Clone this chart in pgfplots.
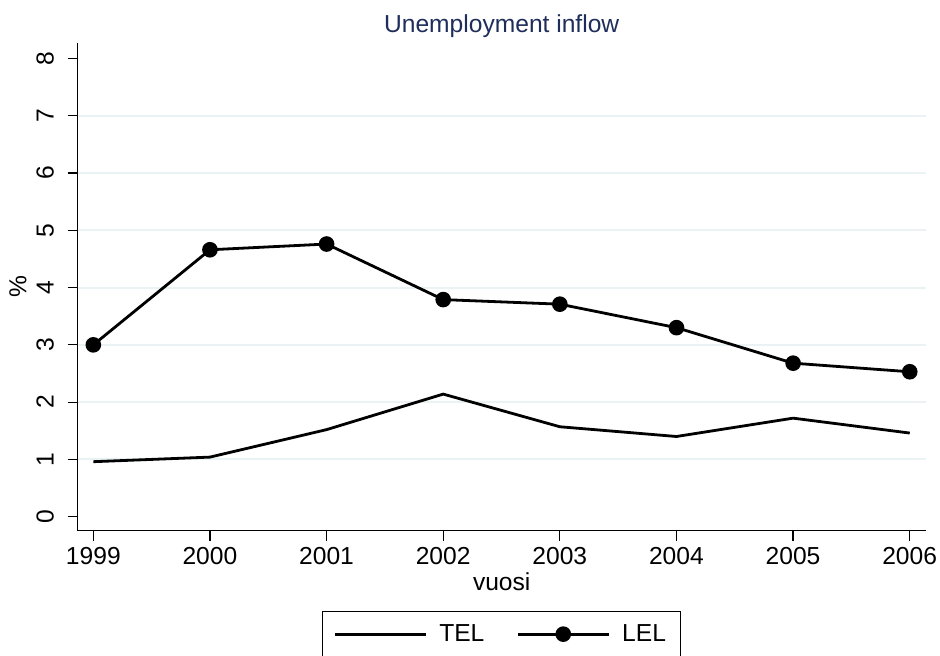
\documentclass[border=0pt]{standalone}
\usepackage{fontspec}
\setmainfont{Liberation Sans}
\usepackage{pgfplots}
\pgfplotsset{compat=1.18}

\definecolor{titlenavy}{RGB}{30,45,90}
\definecolor{gridcol}{RGB}{234,242,243}

\newcommand{\chartfont}{\fontsize{12.3}{14}\selectfont}

\begin{document}
\begin{tikzpicture}
\begin{axis}[
  name=main,
  scale only axis,
  width=424pt, height=243.85pt,
  xmin=1998.866, xmax=2006.137,
  ymin=-0.245, ymax=8.27,
  axis x line*=bottom, axis y line*=left,
  axis line style={line width=0.6pt,-},
  tick align=outside,
  major tick length=5pt,
  tick style={line width=0.6pt,black},
  xtick={1999,...,2006},
  ytick={0,...,8},
  /pgf/number format/assume math mode=true,
  /pgf/number format/set thousands separator={},
  ticklabel style={font=\chartfont},
  yticklabel style={rotate=90,anchor=base},
  yticklabel shift=7pt,
  extra y ticks={1,...,7},
  extra y tick labels={},
  extra y tick style={grid=major,major tick length=0pt,
    major grid style={gridcol,line width=1pt}},
  title={Unemployment inflow},
  title style={font=\chartfont,text=titlenavy,at={(0.5,1)},anchor=base,yshift=-0.5pt},
  xlabel={vuosi},
  xlabel style={font=\chartfont,at={(rel axis cs:0.5,-0.1216)},anchor=base},
  ylabel={\%},
  ylabel style={font=\chartfont,at={(rel axis cs:-0.0704,0.5)},anchor=center,rotate=0},
  legend columns=2,
  legend style={at={(0.5,-0.1646)},anchor=north,draw=black,line width=0.6pt,
    font=\chartfont,inner xsep=5.3pt,inner ysep=4.3pt,
    /tikz/every odd column/.append style={column sep=4pt},
    /tikz/every even column/.append style={column sep=14pt}},
  legend image code/.code={%
    \draw[mark repeat=2,mark phase=2,#1] plot coordinates {(0pt,0pt) (22.75pt,0pt) (45.5pt,0pt)};},
  clip=false,
]
% TEL: line only
\addplot[black,line width=1.4pt] coordinates {
  (1999,0.96) (2000,1.04) (2001,1.52) (2002,2.14)
  (2003,1.57) (2004,1.40) (2005,1.72) (2006,1.46)
};
\addlegendentry{TEL}
% LEL: line with filled circles
\addplot[black,line width=1.4pt,mark=*,mark size=3.2pt,mark options={solid}] coordinates {
  (1999,3.00) (2000,4.66) (2001,4.76) (2002,3.79)
  (2003,3.71) (2004,3.30) (2005,2.68) (2006,2.53)
};
\addlegendentry{LEL}
\end{axis}
\pgfresetboundingbox
\path (main.south west) ++(-38.85pt,-62.15pt) rectangle ++(470pt,327.5pt);
\end{tikzpicture}
\end{document}
